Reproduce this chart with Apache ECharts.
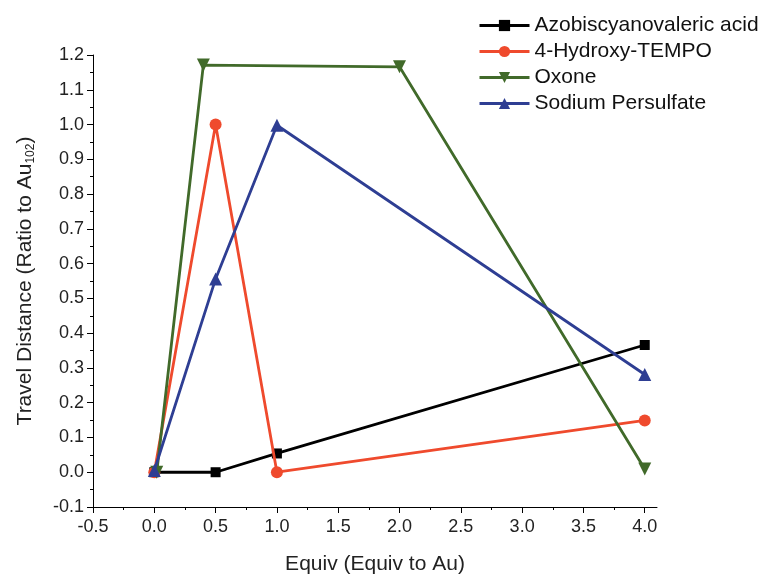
<!DOCTYPE html>
<html>
<head>
<meta charset="utf-8">
<script src="https://cdn.jsdelivr.net/npm/echarts@6/dist/echarts.min.js"></script>
<style>html,body{margin:0;padding:0;background:#fff;}#c{width:759px;height:580px;}</style>
</head>
<body>
<div id="c"></div>
<script>
var seriesNames = ['Azobiscyanovaleric acid', '4-Hydroxy-TEMPO', 'Oxone', 'Sodium Persulfate'];
var azoData = [[0, 0], [0.5, 0], [1.0, 0.054], [4.0, 0.366]];
var tempoData = [[0, 0], [0.5, 1.0], [1.0, 0.0], [4.0, 0.149]];
var oxoneData = [[0.02, 0], [0.4, 1.171], [2.0, 1.166], [4.0, 0.009]];
var persulfateData = [[0, 0.005], [0.5, 0.556], [1.0, 0.998], [4.0, 0.281]];
var xMajorTicks = [-0.5, 0.0, 0.5, 1.0, 1.5, 2.0, 2.5, 3.0, 3.5, 4.0];
var xMinorTicks = [-0.25, 0.25, 0.75, 1.25, 1.75, 2.25, 2.75, 3.25, 3.75];

var colors = ['#000000', '#ef4a2d', '#416a2a', '#2e3e93'];
var symbols = ['rect', 'circle', 'path://M0,0 L10,0 L5,9 Z', 'triangle'];
var sizes = [10, 12, 13, 13];
var datas = [azoData, tempoData, oxoneData, persulfateData];
var font = '"Liberation Sans", Arial, sans-serif';

var chart = echarts.init(document.getElementById('c'), null, {renderer: 'canvas'});
var series = seriesNames.map(function (n, i) {
  return {
    name: n, type: 'line', data: datas[i], xAxisIndex: 0,
    symbol: symbols[i], symbolSize: sizes[i], showAllSymbol: true,
    lineStyle: {color: colors[i], width: 2.8},
    itemStyle: {color: colors[i]},
    animation: false, z: 2 + i
  };
});
chart.setOption({
  backgroundColor: '#ffffff',
  animation: false,
  grid: {left: 93, right: 102, top: 55, bottom: 71},
  legend: {
    orient: 'vertical', left: 473, top: 10,
    itemWidth: 50, itemHeight: 14, itemGap: 5,
    lineStyle: {width: 3},
    textStyle: {fontFamily: font, fontSize: 21, color: '#111', lineHeight: 21},
    data: seriesNames
  },
  xAxis: [{
    type: 'value', min: -0.5, max: 4.1,
    name: 'Equiv (Equiv to Au)', nameLocation: 'middle', nameGap: 47,
    nameTextStyle: {fontFamily: font, fontSize: 21, color: '#222'},
    axisLine: {show: true, onZero: false, lineStyle: {color: '#000', width: 1}},
    axisTick: {show: true, length: 6, customValues: xMajorTicks, lineStyle: {color: '#000'}},
    axisLabel: {customValues: xMajorTicks, fontFamily: font, fontSize: 18, color: '#222', margin: 11,
      formatter: function (v) { return v.toFixed(1); }},
    splitLine: {show: false}
  }, {
    type: 'value', min: -0.5, max: 4.1, position: 'bottom',
    axisLine: {show: false, onZero: false},
    axisTick: {show: true, length: 3, customValues: xMinorTicks, lineStyle: {color: '#000'}},
    axisLabel: {show: false},
    splitLine: {show: false}
  }],
  yAxis: {
    type: 'value', min: -0.1, max: 1.2, interval: 0.1,
    name: '{a|Travel Distance (Ratio to Au}{s|102}{a|)}',
    nameLocation: 'middle', nameGap: 56,
    nameTextStyle: {fontFamily: font, fontSize: 21, color: '#222',
      rich: {a: {fontFamily: font, fontSize: 21, color: '#222', lineHeight: 24},
             s: {fontFamily: font, fontSize: 12, color: '#222', lineHeight: 24, verticalAlign: 'bottom', padding: [14, 0, 0, 0]}}},
    axisLine: {show: true, onZero: false, lineStyle: {color: '#000', width: 1}},
    axisTick: {show: true, length: 6, lineStyle: {color: '#000'}},
    minorTick: {show: true, splitNumber: 2, length: 3, lineStyle: {color: '#000'}},
    axisLabel: {fontFamily: font, fontSize: 18, color: '#222', margin: 9,
      formatter: function (v) { return v.toFixed(1); }},
    splitLine: {show: false}
  },
  series: series
});
</script>
</body>
</html>
